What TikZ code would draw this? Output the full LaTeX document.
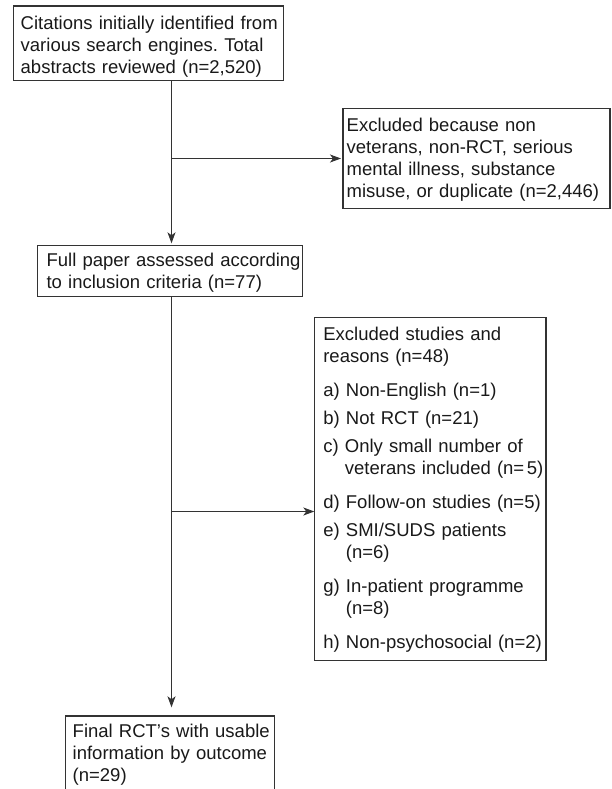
\documentclass[tikz,border=0pt]{standalone}
\usepackage{fontspec}
\setmainfont{Liberation Sans}
\usetikzlibrary{arrows.meta}
\frenchspacing
\newcommand{\topstrut}[1]{\rule{0pt}{#1}}
\newcommand{\botstrut}[1]{\rule[-#1]{0pt}{#1}\par}
\newcommand{\padL}[1]{\frenchspacing\leftskip=#1\rightskip=-8pt plus 1fil\relax}
\begin{document}
\begin{tikzpicture}[x=1pt,y=-1pt,
  box/.style={draw=black!80, line width=1.1pt, inner sep=0pt, outer sep=0pt,
    anchor=north west, align=left, text=black!90,
    font=\fontsize{18.5}{22}\selectfont},
  arr/.style={draw=black!80, line width=1pt,
    -{Stealth[length=11pt,width=8pt,inset=3pt]}}
]
\useasboundingbox (0,0) rectangle (611,789);

\node[box, text width=270.4pt] (b1) at (13.3,6)
  {\padL{7.4pt}\topstrut{23.3pt}Citations initially identified from\\
   various search engines. Total\\
   abstracts reviewed (n=2,520)\botstrut{7pt}};

\node[box, text width=267pt] (b2) at (343,108.3)
  {\padL{3.7pt}\topstrut{23.4pt}Excluded because non\\
   veterans, non-RCT, serious\\
   mental illness, substance\\
   misuse, or duplicate (n=2,446)\botstrut{11pt}};

\node[box, text width=265.4pt] (b3) at (37.3,245.7)
  {\padL{9.3pt}\topstrut{20.3pt}Full paper assessed according\\
   to inclusion criteria (n=77)\botstrut{8.3pt}};

\node[box, text width=231.7pt] (b4) at (314.3,317.3)
  {\padL{9pt}\topstrut{22.7pt}Excluded studies and\\
   reasons (n=48)\\[12pt]
   a) Non-English (n=1)\\[6pt]
   b) Not RCT (n=21)\\[6pt]
   c) Only small number of\\
   \phantom{c)} veterans included (n=\hspace{2.5pt}5)\\[12pt]
   d) Follow-on studies (n=5)\\[6pt]
   e) SMI/SUDS patients\\
   \phantom{e)} (n=6)\\[12pt]
   g) In-patient programme\\
   \phantom{g)} (n=8)\\[12pt]
   h) Non-psychosocial (n=2)\botstrut{12.3pt}};

\node[box, text width=209pt] (b5) at (65.3,716)
  {\padL{7.4pt}\topstrut{21.3pt}Final RCT’s with usable\\
   information by outcome\\
   (n=29)\botstrut{9pt}};

\coordinate (j1) at (171.5,158.5);
\coordinate (j2) at (171.5,511.5);

\draw[arr, shorten >=2.4pt] (b1.south -| j1) -- (b3.north -| j1);
\draw[arr, shorten >=2pt] (j1) -- (b2.west);
\draw[arr, shorten >=8.7pt] (b3.south -| j2) -- (b5.north -| j2);
\draw[arr] (j2) -- (j2 -| b4.west);
\end{tikzpicture}
\end{document}
